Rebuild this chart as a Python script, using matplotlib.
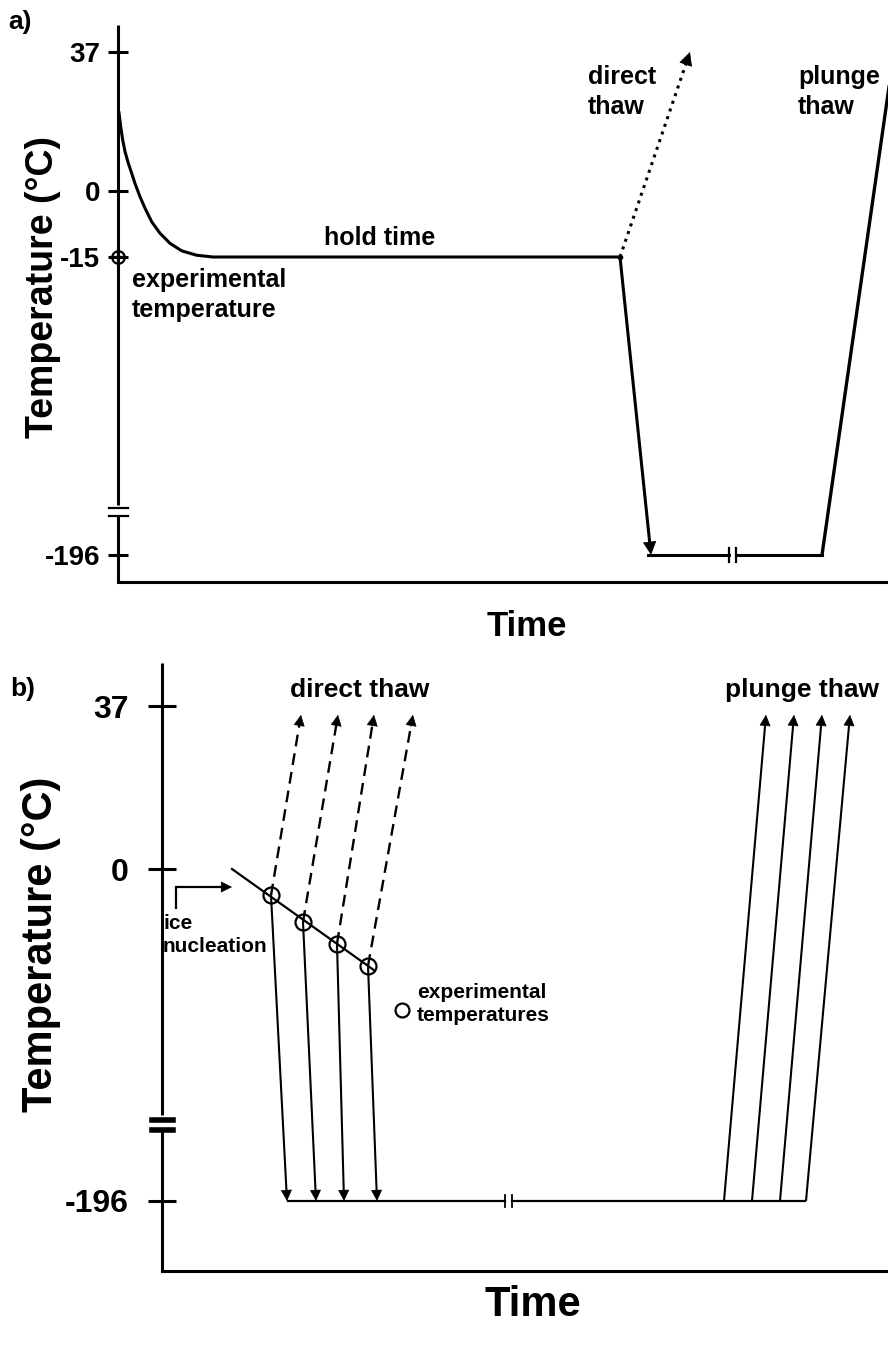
import numpy as np
import matplotlib
matplotlib.use('Agg')
from matplotlib import pyplot as plt

plt.rcParams['font.family'] = ['Liberation Sans', 'DejaVu Sans']
plt.rcParams['font.weight'] = 'bold'

# ---------------- data ----------------
# a) single sample: cool, hold at -15, then thaw directly or via liquid nitrogen
A_TICKS = [37, 0, -15, -196]
A_COOL_TIME = [1, 2.7, 4.7, 7, 10.3, 13.7, 17, 22, 27, 33.7, 42, 52, 63.7, 78.7, 95, 502]
A_COOL_TEMP = [20.8, 17.1, 13.6, 10.5, 7.4, 4.7, 2.0, -1.3, -3.9, -7.0, -9.6, -11.9,
               -13.6, -14.6, -15, -15]
A_EXP_TEMP = -15
A_LN2_TEMP = -196
A_DROP_END = 533
A_STORE = [530, 702]
A_STORE_BREAK = [611, 618]
A_PLUNGE_TIME = [704, 776]
A_PLUNGE_TEMP = [-196, 37]
A_DIRECT_TIME = [502, 572]
A_DIRECT_TEMP = [-15, 37]

# b) cooling through ice nucleation, samples removed at several temperatures
B_TICKS = [37, 0, -196]
B_NUC_TIME = [70, 212]
B_NUC_TEMP = [0, -23]
B_EXP_TIME = [109, 141, 175, 206]
B_EXP_TEMP = [-6, -12, -17, -22]
B_DIRECT_END = [139, 176, 212, 251]
B_THAW_TOP = 35
B_QUENCH_END = [125, 154, 182, 215]
B_STORE = [126, 643]
B_STORE_BREAK = [343, 350]
B_PLUNGE_START = [562, 590, 618, 644]
B_PLUNGE_END = [604, 632, 660, 688]

# temperature -> vertical position on the (broken) axis
A_ANCHOR_T = [-196, -15, 0, 37]
A_ANCHOR_Y = [27, 325, 391, 530]
B_ANCHOR_T = [-196, -40, 0, 37]
B_ANCHOR_Y = [70, 226, 402, 565]

def ya(t):
    return np.interp(t, A_ANCHOR_T, A_ANCHOR_Y)

def yb(t):
    return np.interp(t, B_ANCHOR_T, B_ANCHOR_Y)

W, H = 888, 1348
fig = plt.figure(figsize=(W / 100, H / 100), dpi=100)

def ftext(x, y, s, **kw):
    fig.text(x / W, 1 - y / H, s, **kw)

def arrow(ax, x0, y0, x1, y1, ls='-', lw=2.0, ms=14, head=11):
    d = np.array([x1 - x0, y1 - y0], float)
    u = d / np.hypot(*d)
    ex, ey = np.array([x1, y1]) - u * head * 0.5
    ax.plot([x0, ex], [y0, ey], color='k', lw=lw, ls=ls, clip_on=False,
            solid_capstyle='butt')
    bx, by = np.array([x1, y1]) - u * head
    ax.annotate('', xy=(x1, y1), xytext=(bx, by),
                arrowprops=dict(arrowstyle='-|>', color='k', lw=0.5,
                                mutation_scale=ms, shrinkA=0, shrinkB=0),
                annotation_clip=False)

def setup(ax, xmax, ymax, ticks, yfun, ticklen, pad, tsize, gap, bar_lw):
    ax.set_xlim(0, xmax)
    ax.set_ylim(0, ymax)
    for s in ['top', 'right', 'left']:
        ax.spines[s].set_visible(False)
    ax.spines['bottom'].set_linewidth(2.2)
    ax.set_xticks([])
    ax.set_yticks(yfun(np.array(ticks)))
    ax.set_yticklabels([str(t) for t in ticks], fontsize=tsize, fontweight='bold')
    ax.tick_params(axis='y', direction='inout', length=ticklen, width=2.2, pad=pad)
    # y axis drawn by hand so it can carry the break
    lo, hi, b1, b2, bw = gap
    ax.plot([0, 0], [0, lo], color='k', lw=2.2, clip_on=False, solid_capstyle='butt')
    ax.plot([0, 0], [hi, ymax], color='k', lw=2.2, clip_on=False, solid_capstyle='butt')
    for yy in (b1, b2):
        ax.plot([-bw, bw], [yy, yy], color='k', lw=bar_lw, clip_on=False)

# ---------------- panel a ----------------
axa = fig.add_axes([118 / W, (H - 582) / H, (W - 118) / W, 557 / H])
setup(axa, 770, 557, A_TICKS, ya, 14.4, 5.5, 20, (66, 77, 74, 66, 9.5), 1.6)

axa.plot(A_COOL_TIME, ya(np.array(A_COOL_TEMP)), color='k', lw=2.2,
         solid_joinstyle='round')
axa.plot(A_COOL_TIME[-1], ya(A_EXP_TEMP), 'o', color='k', ms=3)
arrow(axa, A_COOL_TIME[-1], ya(A_EXP_TEMP), A_DROP_END, ya(A_LN2_TEMP), lw=2.2, ms=22,
      head=13)
arrow(axa, A_DIRECT_TIME[0], ya(A_DIRECT_TEMP[0]), A_DIRECT_TIME[1], ya(A_DIRECT_TEMP[1]),
      ls=':', lw=2.2, ms=22, head=13)
axa.plot([A_STORE[0], A_STORE_BREAK[0]], [ya(A_LN2_TEMP)] * 2, color='k', lw=2.2)
axa.plot([A_STORE_BREAK[1], A_STORE[1]], [ya(A_LN2_TEMP)] * 2, color='k', lw=2.2)
for xb in A_STORE_BREAK:
    axa.plot([xb, xb], [ya(A_LN2_TEMP) - 7, ya(A_LN2_TEMP) + 7], color='k', lw=1.6)
axa.plot([A_STORE[1], A_PLUNGE_TIME[0]], [ya(A_LN2_TEMP)] * 2, color='k', lw=2.2)
axa.plot(A_PLUNGE_TIME, ya(np.array(A_PLUNGE_TEMP)), color='k', lw=2.4, clip_on=False)

axa.plot(0, ya(A_EXP_TEMP), 'o', mfc='none', mec='k', ms=9, mew=1.6, clip_on=False)
axa.plot(0, ya(A_EXP_TEMP), '+', color='k', ms=12, mew=1.6, clip_on=False)

ftext(8, 22, 'a)', fontsize=19, fontweight='bold', va='center')
ftext(43, 287, 'Temperature (°C)', fontsize=27, fontweight='bold',
      rotation=90, ha='center', va='center')
ftext(527, 627, 'Time', fontsize=25, fontweight='bold', ha='center', va='center')
ftext(380, 238, 'hold time', fontsize=18, fontweight='bold', ha='center', va='center')
ftext(132, 295, 'experimental\ntemperature', fontsize=18, fontweight='bold',
      va='center', linespacing=1.35)
ftext(588, 92, 'direct\nthaw', fontsize=18, fontweight='bold', va='center', linespacing=1.35)
ftext(798, 92, 'plunge\nthaw', fontsize=18, fontweight='bold', va='center', linespacing=1.35)

# ---------------- panel b ----------------
axb = fig.add_axes([162 / W, (H - 1271) / H, (W - 162) / W, 608 / H])
setup(axb, 726, 608, B_TICKS, yb, 20, 14, 23, (141, 156, 151, 141, 10.5), 4.0)

axb.plot(B_NUC_TIME, yb(np.array(B_NUC_TEMP)), color='k', lw=1.6)
for xs, ts, xd, xq in zip(B_EXP_TIME, B_EXP_TEMP, B_DIRECT_END, B_QUENCH_END):
    arrow(axb, xs, yb(ts), xd, yb(B_THAW_TOP), ls=(0, (5, 3)), lw=1.7, ms=18, head=12)
    arrow(axb, xs, yb(ts), xq, yb(-196), lw=1.5, ms=18, head=12)
axb.plot(B_EXP_TIME, yb(np.array(B_EXP_TEMP)), 'o', mfc='none', mec='k', ms=11.5, mew=1.6)

axb.plot([B_STORE[0], B_STORE_BREAK[0]], [yb(-196)] * 2, color='k', lw=1.6)
axb.plot([B_STORE_BREAK[1], B_STORE[1]], [yb(-196)] * 2, color='k', lw=1.6)
for xb in B_STORE_BREAK:
    axb.plot([xb, xb], [yb(-196) - 6, yb(-196) + 6], color='k', lw=1.3)
for xs, xe in zip(B_PLUNGE_START, B_PLUNGE_END):
    arrow(axb, xs, yb(-196), xe, yb(B_THAW_TOP), lw=1.5, ms=18, head=12)

# ice nucleation pointer
axb.plot([14, 14], [1271 - 908, 1271 - 887], color='k', lw=1.6)
arrow(axb, 14, 1271 - 887, 70, 1271 - 887, lw=1.6, ms=18, head=12)

fig.lines.append(plt.Line2D([402 / W], [1 - 1010 / H], marker='o', mfc='none', mec='k',
                            ms=10, mew=1.6, transform=fig.transFigure))

ftext(10, 689, 'b)', fontsize=19, fontweight='bold', va='center')
ftext(41, 944, 'Temperature (°C)', fontsize=30, fontweight='bold',
      rotation=90, ha='center', va='center')
ftext(533, 1305, 'Time', fontsize=30, fontweight='bold', ha='center', va='center')
ftext(360, 690, 'direct thaw', fontsize=19, fontweight='bold', ha='center', va='center')
ftext(802, 690, 'plunge thaw', fontsize=19, fontweight='bold', ha='center', va='center')
ftext(163, 935, 'ice\nnucleation', fontsize=15, fontweight='bold', va='center',
      linespacing=1.3)
ftext(417, 1004, 'experimental\ntemperatures', fontsize=15, fontweight='bold',
      va='center', linespacing=1.3)

fig.savefig('out.png', dpi=100)
